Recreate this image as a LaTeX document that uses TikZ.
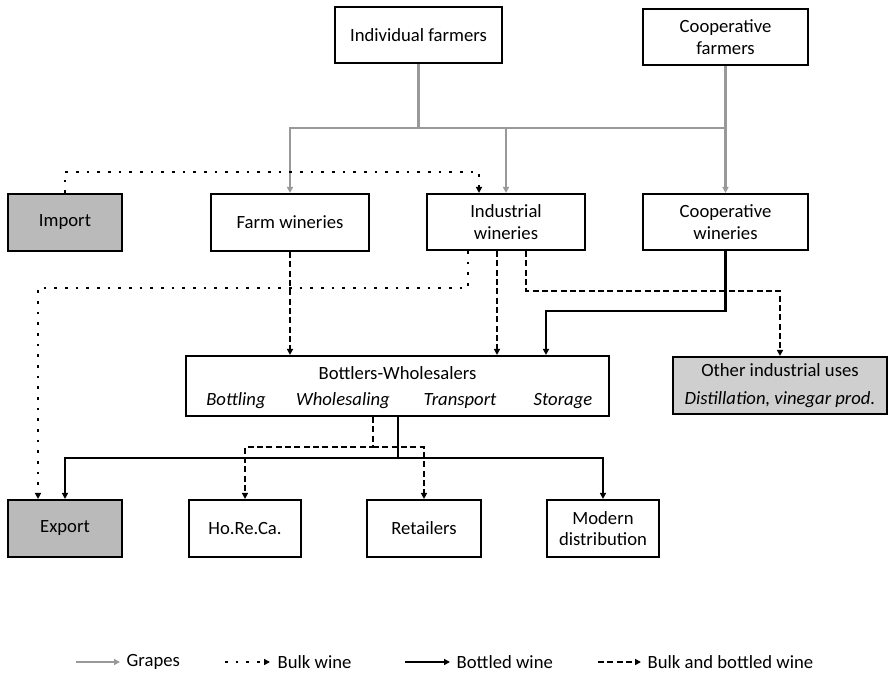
\documentclass[tikz,border=0pt]{standalone}
\usepackage{fontspec}
\setmainfont{Carlito}
\usepackage{tikz}
\usetikzlibrary{arrows.meta}
\usetikzlibrary{positioning}
\tikzstyle{box}=[draw=black,line width=1.6pt,align=center,minimum height=42pt,inner sep=2pt]
\tikzstyle{grapeline}=[draw=black!40,line width=1.8pt]
\tikzstyle{grape}=[grapeline,->,>={Triangle[length=4.5pt,width=4.5pt]}]
\tikzstyle{bulk}=[draw=black,line width=1.9pt,dash pattern=on 1.9pt off 6.1pt,->,>={Triangle[length=4.5pt,width=4.5pt]}]
\tikzstyle{bottled}=[draw=black,line width=1.6pt,->,>={Triangle[length=4.5pt,width=4.5pt]}]
\tikzstyle{both}=[draw=black,line width=1.6pt,dash pattern=on 4.5pt off 2.5pt,->,>={Triangle[length=4.5pt,width=4.5pt]}]

\begin{document}
\begin{tikzpicture}[x=0.75pt,y=-0.75pt,font=\fontsize{14}{16}\selectfont]
\useasboundingbox (0,0) rectangle (888,674);
\node[box,minimum width=125pt] (indiv) at (418.5,35) {Individual farmers};
\node[box,minimum width=124pt] (coopf) at (725.5,37) {Cooperative\\farmers};
\node[box,fill=black!27,minimum width=85.5pt,minimum height=42.75pt] (import) at (65,222.5) {Import};
\node[box,minimum width=119pt,minimum height=42.75pt] (farmw) at (290,222.5) {Farm wineries};
\node[box,minimum width=118.5pt] (indw) at (506,222) {Industrial\\wineries};
\node[box,minimum width=124pt] (coopw) at (725.5,222) {Cooperative\\wineries};
\node[box,minimum width=317pt,minimum height=45pt] (bw) at (397.5,386) {};
\node (bwt) at (397.5,373) {Bottlers-Wholesalers};
\node (bwa) at (236,401) {\itshape Bottling};
\node (bwb) at (343,401) {\itshape Wholesaling};
\node (bwc) at (460,401) {\itshape Transport};
\node (bwd) at (563,401) {\itshape Storage};
\node[box,fill=black!19,minimum width=160.5pt,minimum height=42.75pt] (other) at (780,385.5) {Other industrial uses\\[5pt]\itshape Distillation, vinegar prod.};
\node[box,fill=black!27,minimum width=85.5pt,minimum height=42.75pt] (export) at (65,528.5) {Export};
\node[box,minimum width=84pt,minimum height=42.75pt] (horeca) at (245,528.5) {Ho.Re.Ca.};
\node[box,minimum width=85pt,minimum height=42.75pt] (retail) at (424,528.5) {Retailers};
\node[box,minimum width=84pt,minimum height=42.75pt] (modern) at (603,528.5) {Modern\\distribution};

\coordinate (gj) at (418.5,128);
\draw[grapeline] (indiv) -- (gj) -- (gj -| coopf);
\draw[grape] (gj) -| (farmw);
\draw[grape] (gj) -| (indw);
\draw[grape] (coopf) -- (coopw);

\coordinate (ib) at (479,172);
\draw[bulk] (import.north) |- (ib) -- (ib |- indw.north);
\coordinate (eb) at (468,288);
\coordinate (ex) at (38,288);
\draw[bulk] (eb |- indw.south) -- (eb) -- (ex) -- (ex |- export.north);

\draw[both] (farmw) -- (farmw |- bw.north);
\coordinate (d1) at (497,300);
\draw[both] (d1 |- indw.south) -- (d1 |- bw.north);
\coordinate (d2) at (526,291);
\draw[both] (d2 |- indw.south) -- (d2) -| (other.north);
\coordinate (s1) at (546,311);
\draw[bottled] (coopw.south) |- (s1) -- (s1 |- bw.north);

\coordinate (d3) at (373,447);
\draw[both] (d3 |- bw.south) -- (d3) -| (horeca);
\draw[both] (d3) -| (retail);
\coordinate (s2) at (398,458);
\draw[bottled] (s2 |- bw.south) -- (s2) -| (export);
\draw[bottled] (s2) -| (modern);

\coordinate (la1) at (76,662);
\coordinate (la2) at (120,662);
\draw[grape] (la1) -- (la2);
\node[anchor=west] (lga) at (122,662) {Grapes};
\coordinate (lb1) at (225,662);
\coordinate (lb2) at (270,662);
\draw[bulk] (lb1) -- (lb2);
\node[anchor=west] (lgb) at (273,662) {Bulk wine};
\coordinate (lc1) at (405,662);
\coordinate (lc2) at (450,662);
\draw[bottled] (lc1) -- (lc2);
\node[anchor=west] (lgc) at (452,662) {Bottled wine};
\coordinate (ld1) at (598,662);
\coordinate (ld2) at (641,662);
\draw[both] (ld1) -- (ld2);
\node[anchor=west] (lgd) at (643,662) {Bulk and bottled wine};
\end{tikzpicture}
\end{document}
